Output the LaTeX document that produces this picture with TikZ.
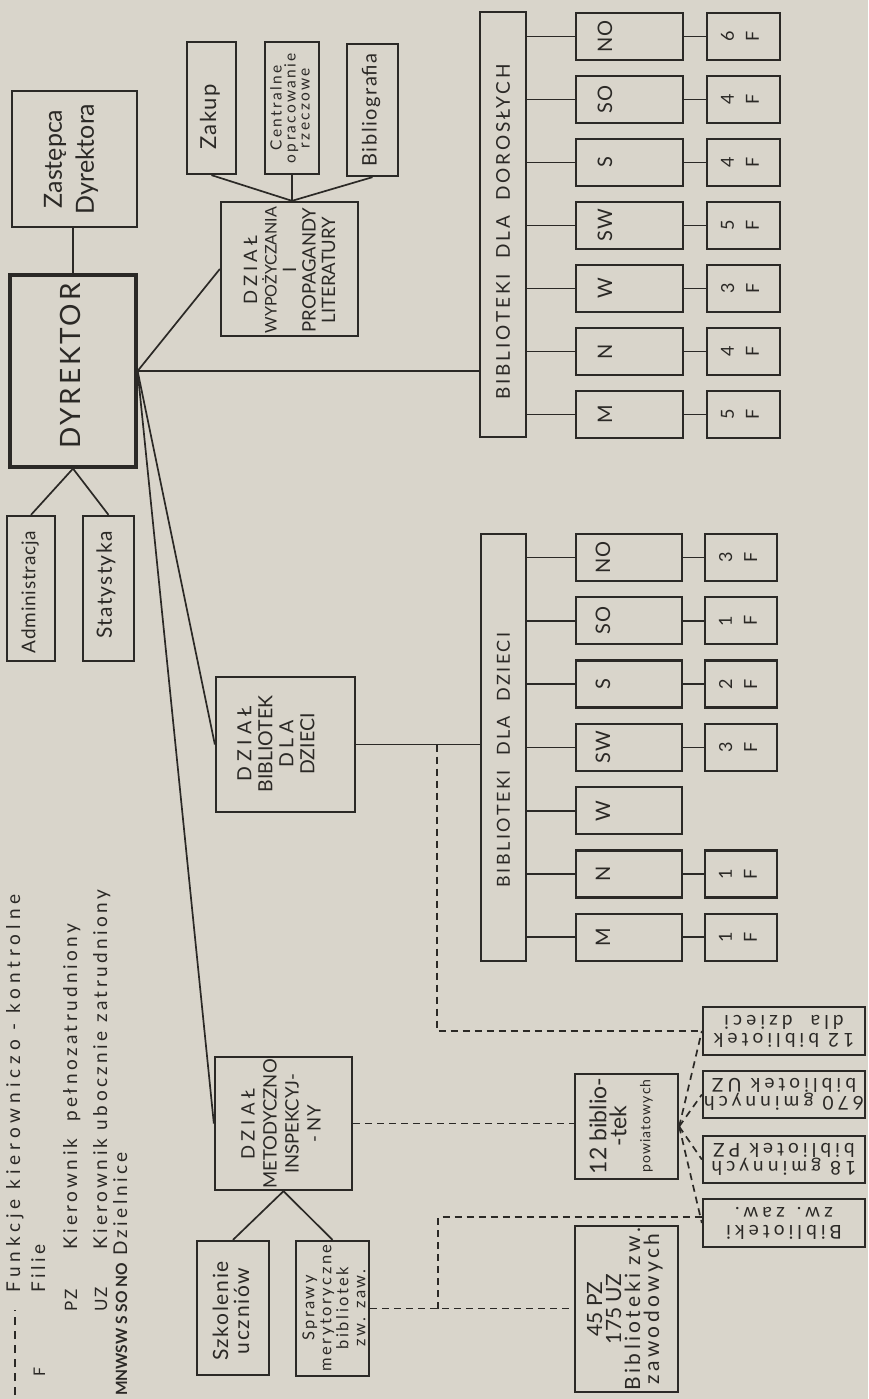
\documentclass[tikz,border=0pt]{standalone}
\usepackage{fontspec}
\setmainfont{Lato}
\usetikzlibrary{fit}
\definecolor{paper}{HTML}{D9D5CB}
\definecolor{ink}{HTML}{2B2926}
\newcommand\fsz[2]{\fontsize{#1}{#2}\selectfont}
\newcommand\lsp[1]{\addfontfeature{LetterSpace=#1}}
\tikzset{
  box/.style={draw=ink, line width=2.3pt, inner sep=0pt},
  tx/.style={rotate=90, align=center, inner sep=0pt, text=ink},
  tu/.style={rotate=180, align=center, inner sep=0pt, text=ink},
  conn/.style={draw=ink, line width=1.7pt},
  dconn/.style={draw=ink, line width=1.7pt, dash pattern=on 7pt off 5pt},
}
\begin{document}
\begin{tikzpicture}[x=1pt,y=-1pt]
\useasboundingbox (0,0) rectangle (868,1399);
\fill[paper] (0,0) rectangle (868,1399);

% ---------- top management ----------
\node[box, fit={(12,91) (137,227)}] (zast) {};
\node[tx, font=\fsz{25}{32}] (zast-t) at (71,159) {Zastępca\\Dyrektora};
\node[box, line width=3.2pt, fit={(10,275) (136,467)}] (dyr) {};
\node[tx, font={\fsz{28}{30}\lsp{10}}] (dyr-t) at (70,366) {DYREKTOR};
\node[box, fit={(7,516) (55,661)}] (adm) {};
\node[tx, font={\fsz{19}{22}\lsp{4}}] (adm-t) at (30,592) {Administracja};
\node[box, fit={(83,516) (134,661)}] (stat) {};
\node[tx, font={\fsz{21}{24}\lsp{6}}] (stat-t) at (106,585) {Statystyka};

\draw[conn] (zast.south -| dyr.north) -- (dyr.north);
\draw[conn] (dyr.south) -- (adm.north);
\draw[conn] (dyr.south) -- (stat.north);

% ---------- Dzial wypozyczania ----------
\node[box, fit={(187,42) (236,174)}] (zakup) {};
\node[tx, font={\fsz{22}{24}\lsp{6}}] (zakup-t) at (210,117) {Zakup};
\node[box, fit={(265,42) (319,174)}] (centr) {};
\node[tx, font={\fsz{15.5}{14}\lsp{15}}] (centr-t) at (290,108) {Centralne\\opracowanie\\rzeczowe};
\node[box, fit={(347,44) (398,176)}] (bibl) {};
\node[tx, font={\fsz{20}{22}\lsp{8}}] (bibl-t) at (371,110) {Bibliogra\kern0pt fia};
\node[box, fit={(221,202) (358,336)}] (wyp) {};
\node[tx, font=\fsz{18.5}{19.5}] (wyp-t) at (289.5,270) {{\lsp{22}DZIAŁ}\\{\fsz{16}{19.5}WYPOŻYCZANIA}\\I\\PROPAGANDY\\LITERATURY};
\coordinate (wh) at (wyp.north -| centr.south);
\draw[conn] (wh) -- (zakup.south);
\draw[conn] (wh) -- (centr.south);
\draw[conn] (wh) -- (bibl.south);

% ---------- hub lines from DYREKTOR ----------
\coordinate (hub) at (dyr.east);
\node[box, fit={(480,12) (526,437)}] (dorosl) {};
\node[tx, font={\fsz{19}{20}\lsp{15}}] (dorosl-t) at (503,232) {BIBLIOTEKI\ \ DLA\ \ DOROSŁYCH};
\node[box, fit={(216,677) (355,812)}] (dzialdz) {};
\node[tx, font=\fsz{19.5}{21}] (dzialdz-t) at (276,744) {{\lsp{25}DZIAŁ}\\BIBLIOTEK\\{\lsp{22}DLA}\\DZIECI};
\node[box, fit={(215,1057) (352,1190)}] (metod) {};
\node[tx, font=\fsz{18.5}{22}] (metod-t) at (281,1124) {{\lsp{25}DZIAŁ}\\METODYCZNO\\INSPEKCYJ-\\- NY};

\draw[conn] (hub) -- (wyp.west);
\draw[conn] (hub) -- (hub -| dorosl.west);
\draw[conn] (hub) -- (dzialdz.west);
\draw[conn] (hub) -- (metod.west);

% ---------- adult libraries ----------
\foreach \n/\lab/\f [count=\i from 0] in {no/NO/6, so/SO/4, s/S/4, sw/SW/5, w/W/3, n/N/4, m/M/5} {
  \pgfmathsetmacro\yc{36.5+63*\i}
  \node[box, minimum width=107pt, minimum height=47pt] (a\n) at (629.5,\yc) {};
  \node[tx, font={\fsz{20}{20}\lsp{5}}] (a\n-t) at (605,\yc) {\lab};
  \node[box, minimum width=73pt, minimum height=47pt] (af\n) at (743.5,\yc) {};
  \node[tx, font=\fsz{18}{25}] (af\n-t) at (740,\yc) {\f\\F};
  \draw[conn] (a\n.west -| dorosl.east) -- (a\n.west);
  \draw[conn] (a\n.east) -- (af\n.west);
}

% ---------- children libraries ----------
\node[box, fit={(481,534) (526,961)}] (dzieci) {};
\node[tx, font={\fsz{18}{20}\lsp{14}}] (dzieci-t) at (503.5,760) {BIBLIOTEKI\ \ DLA\ \ DZIECI};
\draw[conn] (dzialdz.east) -- (dzialdz.east -| dzieci.west);
\foreach \n/\lab [count=\i from 0] in {no/NO, so/SO, s/S, sw/SW, w/W, n/N, m/M} {
  \pgfmathsetmacro\yc{557.5+63.3*\i}
  \node[box, minimum width=106pt, minimum height=47pt] (c\n) at (629,\yc) {};
  \node[tx, font={\fsz{20}{20}\lsp{5}}] (c\n-t) at (603,\yc) {\lab};
  \draw[conn] (c\n.west -| dzieci.east) -- (c\n.west);
}
\foreach \n/\f in {no/3, so/1, s/2, sw/3, n/1, m/1} {
  \node[box, minimum width=72pt, minimum height=47pt] (cf\n) at (741,0 |- c\n) {};
  \node[tx, font=\fsz{18}{25}] (cf\n-t) at (738,0 |- c\n) {\f\\F};
  \draw[conn] (c\n.east) -- (cf\n.west);
}

% ---------- methodical department ----------
\node[box, fit={(197,1241) (269,1375)}] (szkol) {};
\node[tx, font={\fsz{21}{21}\lsp{8}}] (szkol-t) at (231,1311) {Szkolenie\\uczniów};
\node[box, fit={(296,1241) (369,1376)}] (sprawy) {};
\node[tx, font={\fsz{16.5}{17}\lsp{15}}] (sprawy-t) at (334,1308) {Sprawy\\merytoryczne\\bibliotek\\zw. zaw.};
\draw[conn] (metod.south) -- (szkol.north);
\draw[conn] (metod.south) -- (sprawy.north);

% ---------- county / professional libraries ----------
\node[box, fit={(575,1074) (678,1179)}] (powiat) {};
\node[tx, font=\fsz{23}{20}] (powiat-t) at (621,1126) {12 biblio-\\-tek\\[4pt]{\fsz{14}{14}\lsp{8}powiatowych}};
\node[box, fit={(575,1226) (678,1392)}] (zaw) {};
\node[tx, font=\fsz{21}{19}] (zaw-t) at (625,1309) {45 PZ\\175 UZ\\{\lsp{16}Biblioteki zw.}\\{\lsp{16}zawodowych}};

\node[box, fit={(703,1007) (865,1055)}] (r1) {};
\node[tu, font={\fsz{19}{18}\lsp{22}}] (r1-t) at (784,1031) {12 bibliotek\\dla\ \ dzieci};
\node[box, fit={(703,1071) (865,1118)}] (r2) {};
\node[tu, font={\fsz{19}{18}\lsp{22}}] (r2-t) at (784,1094.5) {670 gminnych\\bibliotek UZ};
\node[box, fit={(703,1136) (865,1183)}] (r3) {};
\node[tu, font={\fsz{19}{18}\lsp{22}}] (r3-t) at (784,1159.5) {18 gminnych\\bibliotek PZ};
\node[box, fit={(703,1199) (865,1247)}] (r4) {};
\node[tu, font={\fsz{19}{18}\lsp{22}}] (r4-t) at (784,1223) {Biblioteki\\zw. zaw.};

% ---------- dashed control lines ----------
\coordinate (dj) at (437,744.5);
\draw[dconn] (dj) |- (r1.west);
\draw[dconn] (metod.east) -- (metod.east -| powiat.west);
\draw[dconn] (powiat.east) -- (r1.west);
\draw[dconn] (powiat.east) -- (r2.west);
\draw[dconn] (powiat.east) -- (r3.west);
\draw[dconn] (powiat.east) -- (r4.west);
\draw[dconn] (sprawy.east) -- (sprawy.east -| zaw.west);
\coordinate (sj) at (438,1308.5);
\draw[dconn] (sj) |- ([yshift=6pt]r4.west);

% ---------- legend ----------
\draw[dconn, dash pattern=on 8pt off 6pt] (15,1395) -- (15,1310);
\node[tx, anchor=base west, font={\fsz{19}{20}\lsp{26}}] (lg1) at (20,1293) {Funkcje kierowniczo - kontrolne};
\node[tx, anchor=base west, font=\fsz{16}{20}] (lg2a) at (45,1377) {F};
\node[tx, anchor=base west, font={\fsz{19}{20}\lsp{18}}] (lg2b) at (45,1293) {Filie};
\node[tx, anchor=base west, font={\fsz{17}{20}\lsp{10}}] (lg3a) at (77,1312) {PZ};
\node[tx, anchor=base west, font={\fsz{19}{20}\lsp{18}}] (lg3b) at (77,1250) {Kierownik\ \ pełnozatrudniony};
\node[tx, anchor=base west, font={\fsz{17}{20}\lsp{10}}] (lg4a) at (107,1312) {UZ};
\node[tx, anchor=base west, font={\fsz{19}{20}\lsp{18}}] (lg4b) at (107,1250) {Kierownik ubocznie zatrudniony};
\node[tx, anchor=base west, font={\fsz{15.5}{20}\bfseries}] (lg5a) at (127,1396) {MNWSW S SO NO};
\node[tx, anchor=base west, font={\fsz{19}{20}\lsp{18}}] (lg5b) at (127,1256) {Dzielnice};
\end{tikzpicture}
\end{document}
